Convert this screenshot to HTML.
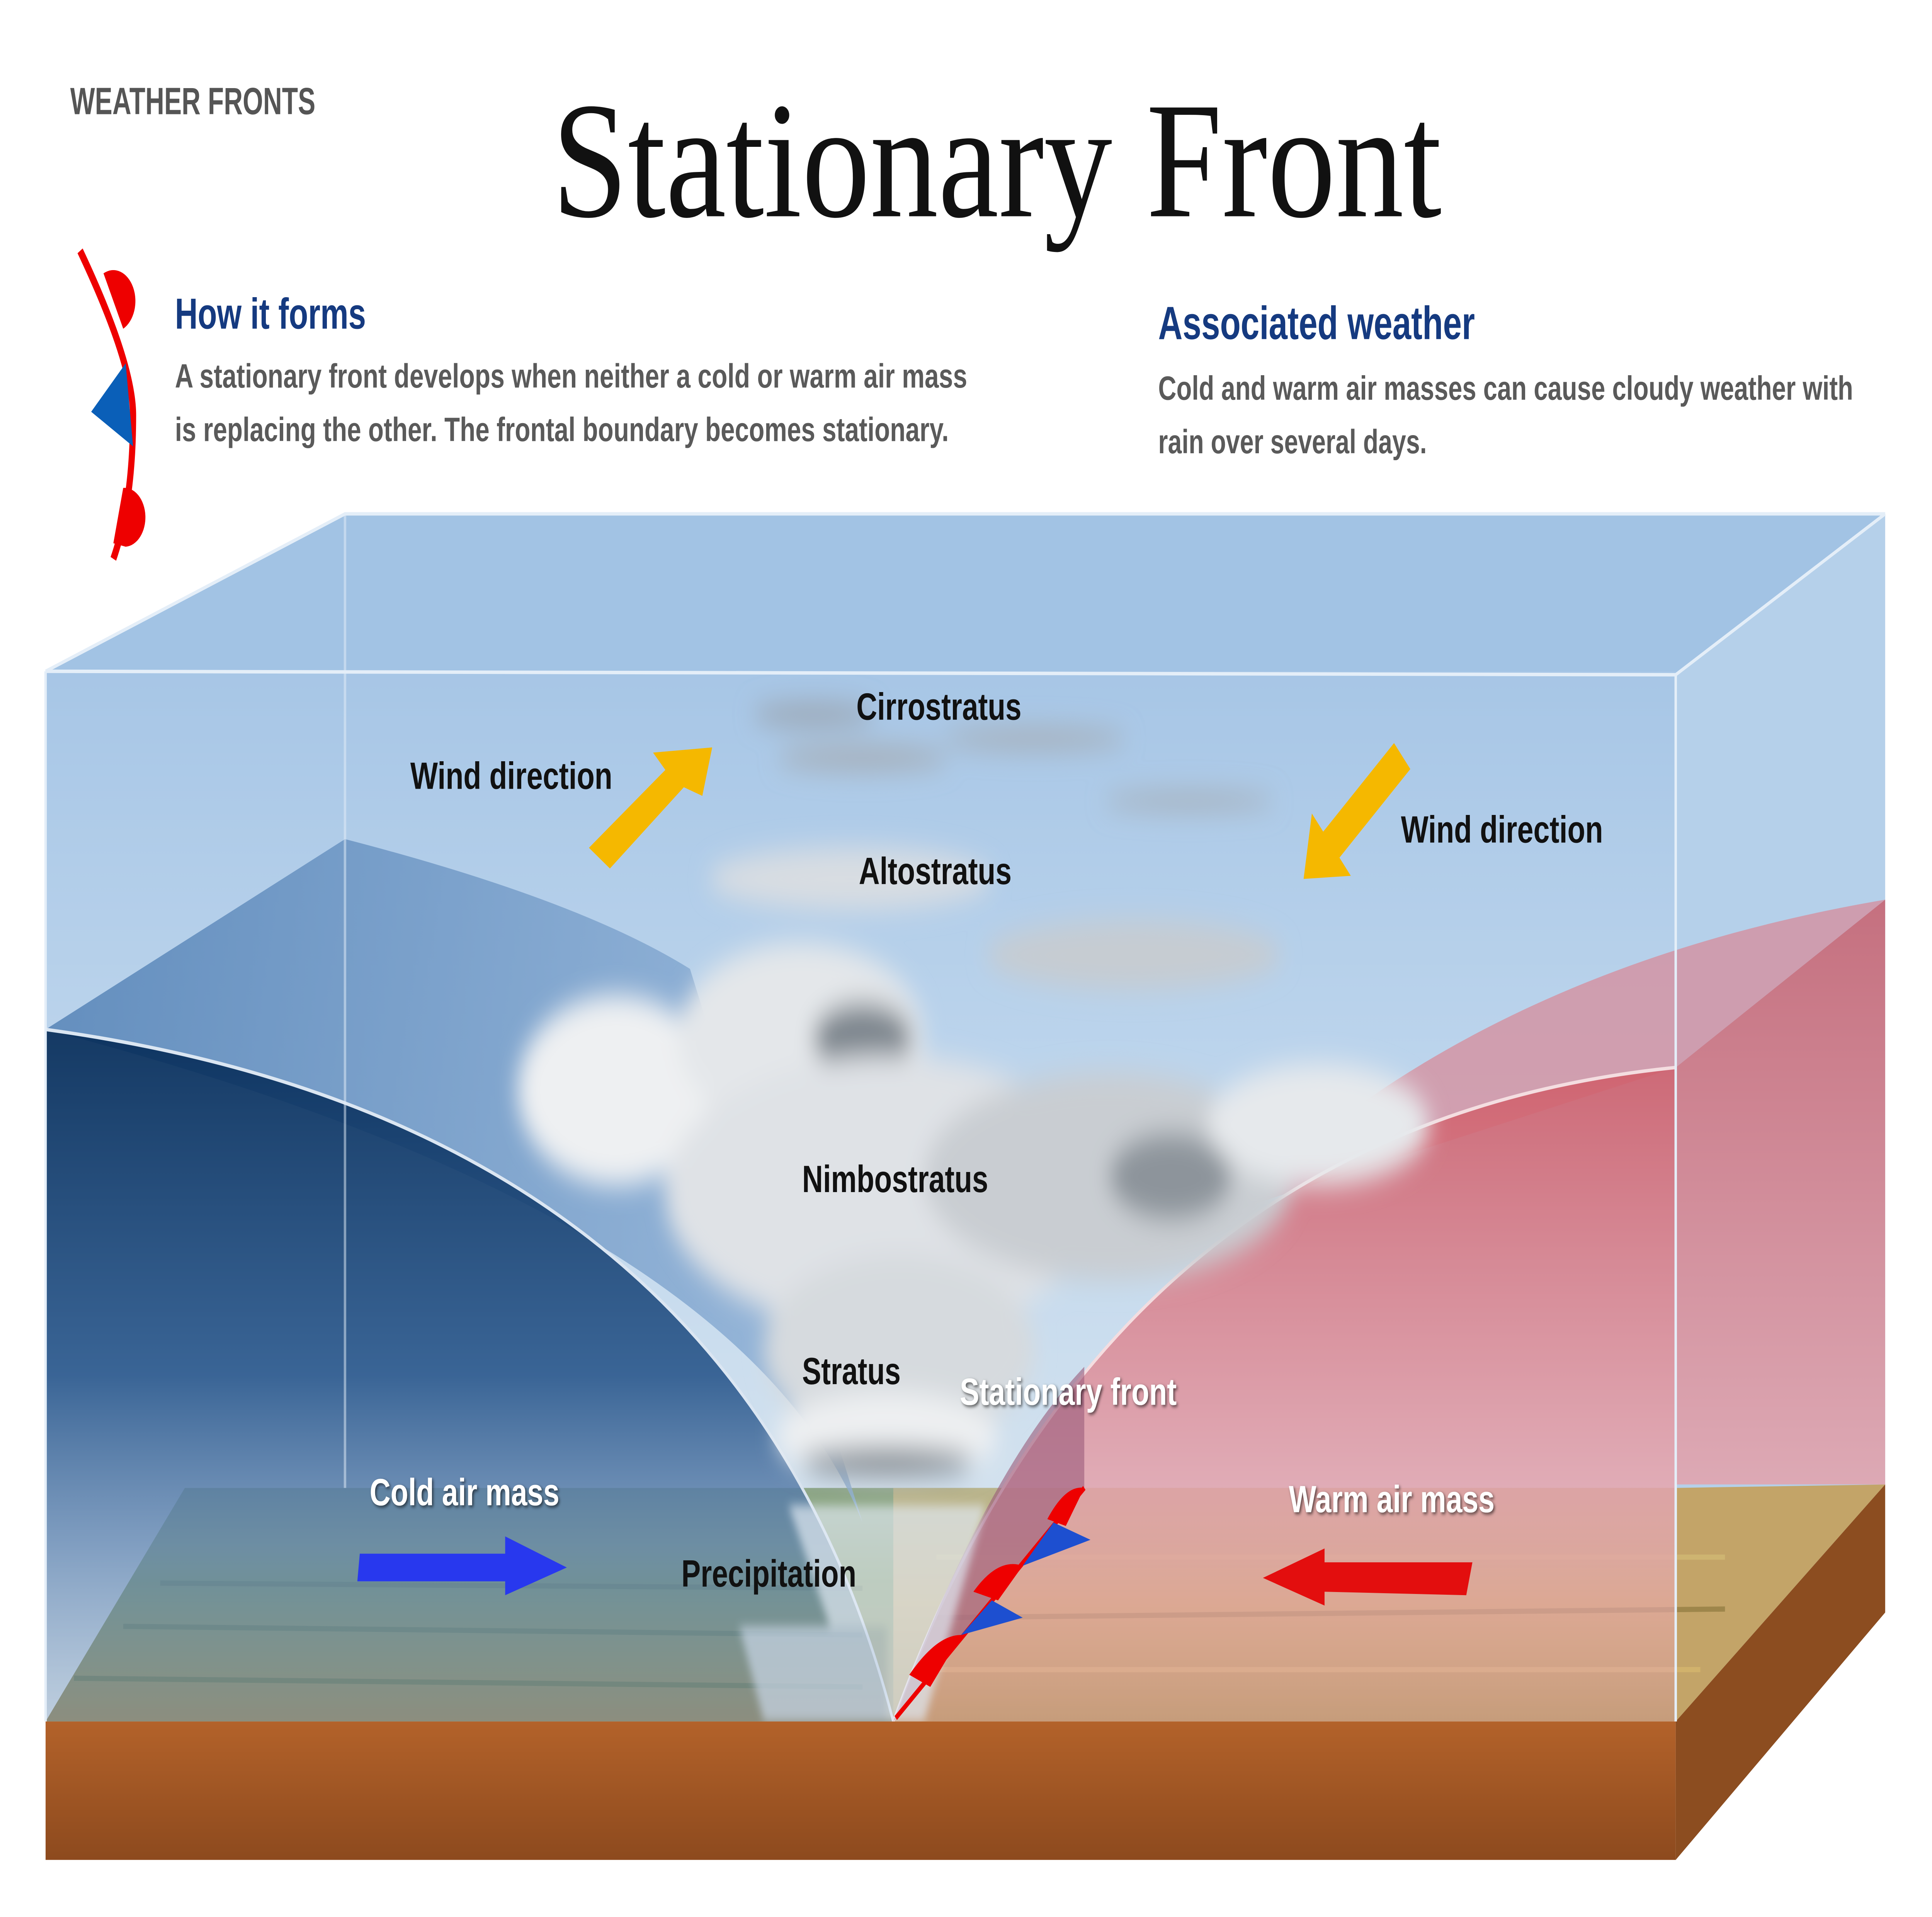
<!DOCTYPE html>
<html><head><meta charset="utf-8"><style>
html,body{margin:0;padding:0;background:#fff;overflow:hidden;width:100vw;height:100vh;}
svg{display:block;width:100vw;height:100vh;}
</style></head><body>
<svg viewBox="0 0 1568 1108" preserveAspectRatio="none" xmlns="http://www.w3.org/2000/svg">
<defs>
<linearGradient id="sky" x1="0" y1="0" x2="0" y2="1">
<stop offset="0" stop-color="#a7c6e6"/><stop offset="0.5" stop-color="#c3d9ee"/><stop offset="1" stop-color="#dfe8ee"/></linearGradient>
<linearGradient id="cold" x1="0" y1="0" x2="0" y2="1">
<stop offset="0" stop-color="#062c58"/><stop offset="0.5" stop-color="#2d5a8e"/><stop offset="0.75" stop-color="#6a8cb5" stop-opacity="0.85"/><stop offset="1" stop-color="#8fa9c8" stop-opacity="0.45"/></linearGradient>
<linearGradient id="coldtop" x1="0" y1="0" x2="1" y2="0">
<stop offset="0" stop-color="#4f7eb3"/><stop offset="1" stop-color="#8eb0d6"/></linearGradient>
<linearGradient id="warm" x1="0" y1="0" x2="0" y2="1">
<stop offset="0" stop-color="#cf5e6a"/><stop offset="0.65" stop-color="#e4a0aa" stop-opacity="0.9"/><stop offset="1" stop-color="#eab0b8" stop-opacity="0.5"/></linearGradient>
<linearGradient id="warmside" x1="0" y1="0" x2="0" y2="1">
<stop offset="0" stop-color="#c85f6c"/><stop offset="1" stop-color="#e4a2ab"/></linearGradient>
<linearGradient id="ground" x1="0" y1="0" x2="0" y2="1">
<stop offset="0" stop-color="#8fa88a"/><stop offset="0.4" stop-color="#6f8d4a"/><stop offset="1" stop-color="#8a7a4a"/></linearGradient>
<linearGradient id="groundR" x1="0" y1="0" x2="0" y2="1">
<stop offset="0" stop-color="#b9b58e"/><stop offset="0.5" stop-color="#c8a860"/><stop offset="1" stop-color="#a88c48"/></linearGradient>
<linearGradient id="base" x1="0" y1="0" x2="0" y2="1">
<stop offset="0" stop-color="#b3622a"/><stop offset="1" stop-color="#8d4a1e"/></linearGradient>
<filter id="blur"><feGaussianBlur stdDeviation="8"/></filter>
<filter id="blur2"><feGaussianBlur stdDeviation="3"/></filter>
<filter id="sh"><feDropShadow dx="1" dy="1" stdDeviation="1" flood-color="#000" flood-opacity="0.6"/></filter>
</defs>
<rect width="1568" height="1108" fill="#fff"/>

<text x="57" y="66" textLength="199" lengthAdjust="spacingAndGlyphs" font-family="Liberation Sans, sans-serif" font-weight="bold" font-size="22" fill="#555">WEATHER FRONTS</text>
<text x="448" y="125" textLength="722" lengthAdjust="spacingAndGlyphs" font-family="Liberation Serif, serif" font-size="96" fill="#111">Stationary Front</text>
<path d="M65 145 Q108 210 108 240 Q108 290 92 323" fill="none" stroke="#e00" stroke-width="5"/>
<path d="M84 158 A17 17 0 0 1 100 190 Z" fill="#e00"/>
<path d="M100 282 A17 17 0 0 1 102 316 L92 314 Z" fill="#e00"/>
<path d="M102 210 L74 238 L108 258 Z" fill="#0a5fb8"/>
<text x="142" y="190" textLength="155" lengthAdjust="spacingAndGlyphs" font-family="Liberation Sans, sans-serif" font-weight="bold" font-size="25" fill="#153a80">How it forms</text>
<g font-family="Liberation Sans, sans-serif" font-weight="bold" font-size="19.5" fill="#5a5a5a">
<text x="142" y="224" textLength="643" lengthAdjust="spacingAndGlyphs">A stationary front develops when neither a cold or warm air mass</text>
<text x="142" y="255" textLength="628" lengthAdjust="spacingAndGlyphs">is replacing the other. The frontal boundary becomes stationary.</text>
<text x="940" y="231" textLength="564" lengthAdjust="spacingAndGlyphs">Cold and warm air masses can cause cloudy weather with</text>
<text x="940" y="262" textLength="218" lengthAdjust="spacingAndGlyphs">rain over several days.</text>
</g>
<text x="940" y="196" textLength="257" lengthAdjust="spacingAndGlyphs" font-family="Liberation Sans, sans-serif" font-weight="bold" font-size="27" fill="#153a80">Associated weather</text>

<polygon points="37,388 280,297 1530,297 1360,390" fill="#a2c3e4"/>
<polygon points="1360,390 1530,297 1530,858 1360,995" fill="#b5d0ea"/>
<rect x="37" y="388" width="1323" height="607" fill="url(#sky)"/>

<polygon points="37,995 150,860 1360,860 1360,995" fill="url(#ground)"/>
<polygon points="725,860 1360,860 1360,995 725,995" fill="url(#groundR)"/>
<polygon points="1360,860 1530,858 1360,995" fill="#c3a468"/>
<g stroke-width="3" opacity="0.5">
<line x1="100" y1="940" x2="700" y2="945" stroke="#3d5a2a"/>
<line x1="60" y1="970" x2="700" y2="975" stroke="#3d5a2a"/>
<line x1="130" y1="915" x2="700" y2="918" stroke="#3d5a2a"/>
<line x1="760" y1="900" x2="1400" y2="900" stroke="#d9c47a"/>
<line x1="760" y1="935" x2="1400" y2="930" stroke="#7a6a30"/>
<line x1="760" y1="965" x2="1380" y2="965" stroke="#e0c070"/>
</g>

<path d="M37 595 L280 485 Q470 520 560 560 L700 880 Q600 700 37 595 Z" fill="url(#coldtop)" opacity="0.8"/>
<path d="M37 595 Q600 650 725 995 L37 995 Z" fill="url(#cold)" opacity="0.92"/>
<path d="M37 595 Q600 650 725 995" fill="none" stroke="#dbe6f2" stroke-width="2"/>

<path d="M1360 617 L1530 520 L1530 858 L1360 858 Z" fill="url(#warmside)" opacity="0.85"/>
<path d="M1530 520 Q1200 560 1000 700 L1360 617 Z" fill="#d98896" opacity="0.7"/>
<path d="M1360 617 Q900 650 725 995 L1360 995 L1360 858 Z" fill="url(#warm)" opacity="0.9"/>
<path d="M1360 617 Q900 650 725 995" fill="none" stroke="#f4dde0" stroke-width="2"/>
<path d="M725 995 Q800 850 880 790 L880 860 Z" fill="#9a5a7a" opacity="0.6"/>

<g filter="url(#blur)">
<ellipse cx="660" cy="413" rx="50" ry="6" fill="#9aa3ad"/>
<ellipse cx="700" cy="438" rx="70" ry="7" fill="#a5aeb8"/>
<ellipse cx="840" cy="427" rx="75" ry="6" fill="#a5aeb8"/>
<ellipse cx="965" cy="463" rx="70" ry="5" fill="#a5aeb8"/>
<ellipse cx="690" cy="508" rx="115" ry="18" fill="#d8dde2"/>
<ellipse cx="920" cy="552" rx="120" ry="20" fill="#c6ccd2"/>
<ellipse cx="500" cy="630" rx="80" ry="55" fill="#eef0f2"/>
<ellipse cx="650" cy="600" rx="100" ry="55" fill="#e4e7ea"/>
<ellipse cx="700" cy="600" rx="40" ry="20" fill="#7d858d"/>
<ellipse cx="720" cy="690" rx="180" ry="80" fill="#dfe2e6"/>
<ellipse cx="900" cy="680" rx="150" ry="60" fill="#c9cdd2"/>
<ellipse cx="950" cy="680" rx="50" ry="25" fill="#8d949b"/>
<ellipse cx="1070" cy="650" rx="90" ry="35" fill="#e6e9ec"/>
<ellipse cx="730" cy="780" rx="110" ry="55" fill="#d6dade"/>
<ellipse cx="720" cy="830" rx="90" ry="25" fill="#eef0f2"/>
<ellipse cx="720" cy="845" rx="70" ry="8" fill="#7d858d"/>
</g>
<g filter="url(#blur2)" opacity="0.7">
<path d="M640 870 L800 870 L750 995 L700 995 Z" fill="#dfe8f2"/>
<path d="M600 940 L720 940 L720 995 L620 995 Z" fill="#c8d6e6"/>
</g>

<polygon points="478,490 540,445 530,435 578,432 570,460 555,455 495,502" fill="#f5b800"/>
<polygon points="1131.4,429.5 1073.9,480.7 1064.7,470.2 1058,508 1096.3,506.2 1087.1,495.7 1144.6,444.5" fill="#f5b800"/>
<polygon points="292,898 410,898 410,888 460,906 410,922 410,914 290,914" fill="#2838ee"/>
<polygon points="1195,903 1075,903 1075,895 1025,912 1075,928 1075,920 1190,922" fill="#e30e0e"/>

<line x1="727" y1="993" x2="880" y2="860" stroke="#e00" stroke-width="3"/>
<path d="M738 968 Q760 945 780 945 L755 975 Z" fill="#e00"/>
<path d="M790 920 Q810 900 830 905 L810 925 Z" fill="#e00"/>
<path d="M850 878 Q865 858 880 860 L865 882 Z" fill="#e00"/>
<polygon points="780,945 830,935 805,925" fill="#1d4fd0"/>
<polygon points="830,905 885,890 855,880" fill="#1d4fd0"/>

<rect x="37" y="995" width="1323" height="80" fill="url(#base)"/>
<polygon points="1360,995 1530,858 1530,932 1360,1075" fill="#8c4d20"/>

<g stroke="#e4eef8" stroke-width="2" fill="none">
<polyline points="37,388 1360,390 1530,297"/>
<polyline points="37,388 280,297 1530,297"/>
<line x1="1360" y1="390" x2="1360" y2="995"/>
<line x1="37" y1="388" x2="37" y2="995"/>
<line x1="280" y1="297" x2="280" y2="860" stroke-opacity="0.5"/>
</g>

<g font-family="Liberation Sans, sans-serif" font-weight="bold" font-size="22" fill="#111">
<text x="695" y="416" textLength="134" lengthAdjust="spacingAndGlyphs">Cirrostratus</text>
<text x="333" y="456" textLength="164" lengthAdjust="spacingAndGlyphs">Wind direction</text>
<text x="697" y="511" textLength="124" lengthAdjust="spacingAndGlyphs">Altostratus</text>
<text x="1137" y="487" textLength="164" lengthAdjust="spacingAndGlyphs">Wind direction</text>
<text x="651" y="689" textLength="151" lengthAdjust="spacingAndGlyphs">Nimbostratus</text>
<text x="651" y="800" textLength="80" lengthAdjust="spacingAndGlyphs">Stratus</text>
<text x="553" y="917" textLength="142" lengthAdjust="spacingAndGlyphs">Precipitation</text>
<g fill="#fff" filter="url(#sh)">
<text x="779" y="812" textLength="176" lengthAdjust="spacingAndGlyphs">Stationary front</text>
<text x="300" y="870" textLength="154" lengthAdjust="spacingAndGlyphs">Cold air mass</text>
<text x="1046" y="874" textLength="167" lengthAdjust="spacingAndGlyphs">Warm air mass</text>
</g>
</g>
</svg>
</body></html>
